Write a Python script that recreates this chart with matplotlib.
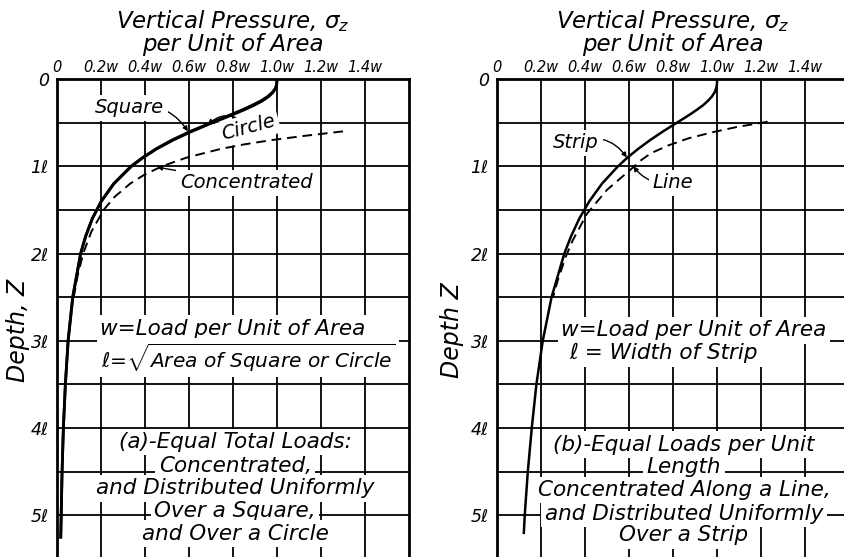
import matplotlib
matplotlib.use('Agg')
import matplotlib.pyplot as plt

# ---------------- data ----------------
x_ticks = [0, 0.2, 0.4, 0.6, 0.8, 1.0, 1.2, 1.4]
x_labels = ['0', '0.2w', '0.4w', '0.6w', '0.8w', '1.0w', '1.2w', '1.4w']
y_ticks = [0, 1, 2, 3, 4, 5]
y_labels = ['0', '1ℓ', '2ℓ', '3ℓ', '4ℓ', '5ℓ']
y_minor = [0.5, 1.5, 2.5, 3.5, 4.5]

# (a) square / circle / concentrated
depth_a = [0, 0.05, 0.1, 0.15, 0.2, 0.25, 0.3, 0.35, 0.4, 0.45, 0.5, 0.6, 0.7, 0.8,
           0.9, 1.0, 1.2, 1.4, 1.6, 1.8, 2.0, 2.5, 3.0, 3.5, 4.0, 4.5, 5.0, 5.25]
circle = [1.0, 0.999, 0.995, 0.983, 0.963, 0.934, 0.897, 0.854, 0.807, 0.758, 0.708,
          0.613, 0.528, 0.454, 0.392, 0.339, 0.259, 0.202, 0.161, 0.131, 0.108,
          0.072, 0.051, 0.038, 0.029, 0.023, 0.019, 0.017]
square = [1.0, 0.999, 0.994, 0.980, 0.958, 0.927, 0.888, 0.845, 0.798, 0.750, 0.701,
          0.606, 0.522, 0.450, 0.389, 0.336, 0.257, 0.201, 0.160, 0.130, 0.107,
          0.071, 0.050, 0.038, 0.029, 0.023, 0.019, 0.017]
depth_conc = [0.60, 0.65, 0.7, 0.75, 0.8, 0.9, 1.0, 1.1, 1.2, 1.35, 1.5, 1.75, 2.0,
              2.25, 2.5]
concentrated = [1.30, 1.13, 0.975, 0.849, 0.746, 0.590, 0.477, 0.395, 0.332, 0.262,
                0.212, 0.156, 0.119, 0.094, 0.076]

# (b) strip / line
depth_b = [0, 0.05, 0.1, 0.15, 0.2, 0.25, 0.3, 0.35, 0.4, 0.45, 0.5, 0.6, 0.7, 0.8,
           0.9, 1.0, 1.2, 1.4, 1.6, 1.8, 2.0, 2.5, 3.0, 3.5, 4.0, 4.5, 5.0, 5.2]
strip = [1.0, 1.0, 0.997, 0.990, 0.977, 0.959, 0.937, 0.910, 0.881, 0.850, 0.818,
         0.755, 0.696, 0.642, 0.593, 0.550, 0.477, 0.420, 0.374, 0.337, 0.306,
         0.248, 0.208, 0.179, 0.158, 0.140, 0.126, 0.122]
depth_line = [0.49, 0.55, 0.61, 0.68, 0.76, 0.85, 0.93, 1.01, 1.27, 1.54, 1.85,
              2.04, 2.3, 2.5]
line_load = [1.23, 1.09, 0.98, 0.87, 0.78, 0.70, 0.655, 0.62, 0.50, 0.41, 0.344,
             0.312, 0.277, 0.255]

# ---------------- style ----------------
plt.rcParams['font.family'] = ['DejaVu Sans']
plt.rcParams['font.style'] = 'italic'
plt.rcParams['mathtext.fontset'] = 'custom'
plt.rcParams['mathtext.rm'] = 'DejaVu Sans:italic'
plt.rcParams['mathtext.it'] = 'DejaVu Sans:italic'
plt.rcParams['mathtext.sf'] = 'DejaVu Sans:italic'

W, H = 844, 557
fig = plt.figure(figsize=(W / 100, H / 100), dpi=100)


def px_axes(l, t, r, b):
    return fig.add_axes([l / W, 1 - b / H, (r - l) / W, (b - t) / H])


axL = px_axes(57, 79, 409, 559)
axR = px_axes(497, 79, 849, 559)

WB = dict(facecolor='white', edgecolor='none', pad=2.5)
TXT = 15.5
LBL = 14


def setup(ax, ylabel, labx):
    ax.set_xlim(0, 1.6)
    ax.set_ylim(5.5, 0)
    ax.xaxis.tick_top()
    ax.set_xticks(x_ticks)
    ax.set_xticklabels(x_labels, fontsize=10.5)
    ax.set_yticks(y_ticks)
    ax.set_yticklabels(y_labels, fontsize=12.5)
    ax.set_yticks(y_minor, minor=True)
    ax.tick_params(which='both', length=0)
    ax.tick_params(axis='x', pad=3)
    ax.tick_params(axis='y', pad=6)
    ax.set_axisbelow(True)
    ax.grid(which='both', color='black', lw=1.3)
    for s in ax.spines.values():
        s.set_linewidth(2)
        s.set_zorder(6)
    ax.set_ylabel(ylabel, fontsize=17)
    ax.yaxis.set_label_coords(labx, 0.477)
    ax.text(0.5, 1.048, 'Vertical Pressure, $\\sigma_z$\nper Unit of Area',
            transform=ax.transAxes, ha='center', va='bottom', fontsize=16.5,
            linespacing=0.92)


setup(axL, 'Depth, Z', -0.077)
setup(axR, 'Depth Z', -0.093)

# ---- panel (a) ----
axL.plot(circle, depth_a, color='black', lw=2.0, zorder=5)
axL.plot(square, depth_a, color='black', lw=2.0, zorder=5)
axL.plot(concentrated, depth_conc, color='black', lw=1.4, ls=(0, (5, 3)), zorder=5)

arrow = dict(arrowstyle='-|>', color='black', lw=1.0, mutation_scale=7,
             shrinkA=0, shrinkB=0)
axL.annotate('Square', xy=(0.595, 0.60), xytext=(0.33, 0.33), fontsize=LBL,
             ha='center', va='center', bbox=WB, zorder=4,
             arrowprops=dict(arrow, connectionstyle='arc3,rad=-0.35'))
axL.annotate('Circle', xy=(0.685, 0.52), xytext=(0.87, 0.56), fontsize=LBL,
             ha='center', va='center', rotation=15, bbox=WB, zorder=4,
             arrowprops=dict(arrow, connectionstyle='arc3,rad=0.5'))
axL.annotate('Concentrated', xy=(0.455, 1.01), xytext=(0.86, 1.19), fontsize=LBL,
             ha='center', va='center', bbox=WB, zorder=4,
             arrowprops=dict(arrow, connectionstyle='arc3,rad=0.0'))

axL.text(0.80, 2.86, 'w=Load per Unit of Area', fontsize=TXT, ha='center',
         va='center', bbox=WB, zorder=3)
axL.text(0.87, 3.19, r'$\ell$=$\sqrt{\mathrm{Area\ of\ Square\ or\ Circle}}$',
         fontsize=14.5, ha='center', va='center', bbox=WB, zorder=3)
for z, s in zip([4.16, 4.43, 4.69, 4.95, 5.21],
                ['(a)-Equal Total Loads:', 'Concentrated,',
                 'and Distributed Uniformly', 'Over a Square,',
                 'and Over a Circle']):
    axL.text(0.81, z, s, fontsize=TXT, ha='center', va='center', bbox=WB,
             zorder=3)

# ---- panel (b) ----
axR.plot(strip, depth_b, color='black', lw=1.8, zorder=5)
axR.plot(line_load, depth_line, color='black', lw=1.4, ls=(0, (5, 3)), zorder=5)

axR.annotate('Strip', xy=(0.59, 0.90), xytext=(0.36, 0.73), fontsize=LBL,
             ha='center', va='center', bbox=WB, zorder=4,
             arrowprops=dict(arrow, connectionstyle='arc3,rad=-0.4'))
axR.annotate('Line', xy=(0.62, 1.0), xytext=(0.80, 1.19), fontsize=LBL,
             ha='center', va='center', bbox=WB, zorder=4,
             arrowprops=dict(arrow, connectionstyle='arc3,rad=-0.3'))

axR.text(0.895, 2.88, 'w=Load per Unit of Area', fontsize=TXT, ha='center',
         va='center', bbox=WB, zorder=3)
axR.text(0.33, 3.14, 'ℓ = Width of Strip', fontsize=TXT, ha='left',
         va='center', bbox=WB, zorder=3)
for z, s in zip([4.19, 4.45, 4.71, 4.98, 5.23],
                ['(b)-Equal Loads per Unit', 'Length',
                 'Concentrated Along a Line,', 'and Distributed Uniformly',
                 'Over a Strip']):
    axR.text(0.85, z, s, fontsize=TXT, ha='center', va='center', bbox=WB,
             zorder=3)

fig.savefig('out.png', dpi=100)
